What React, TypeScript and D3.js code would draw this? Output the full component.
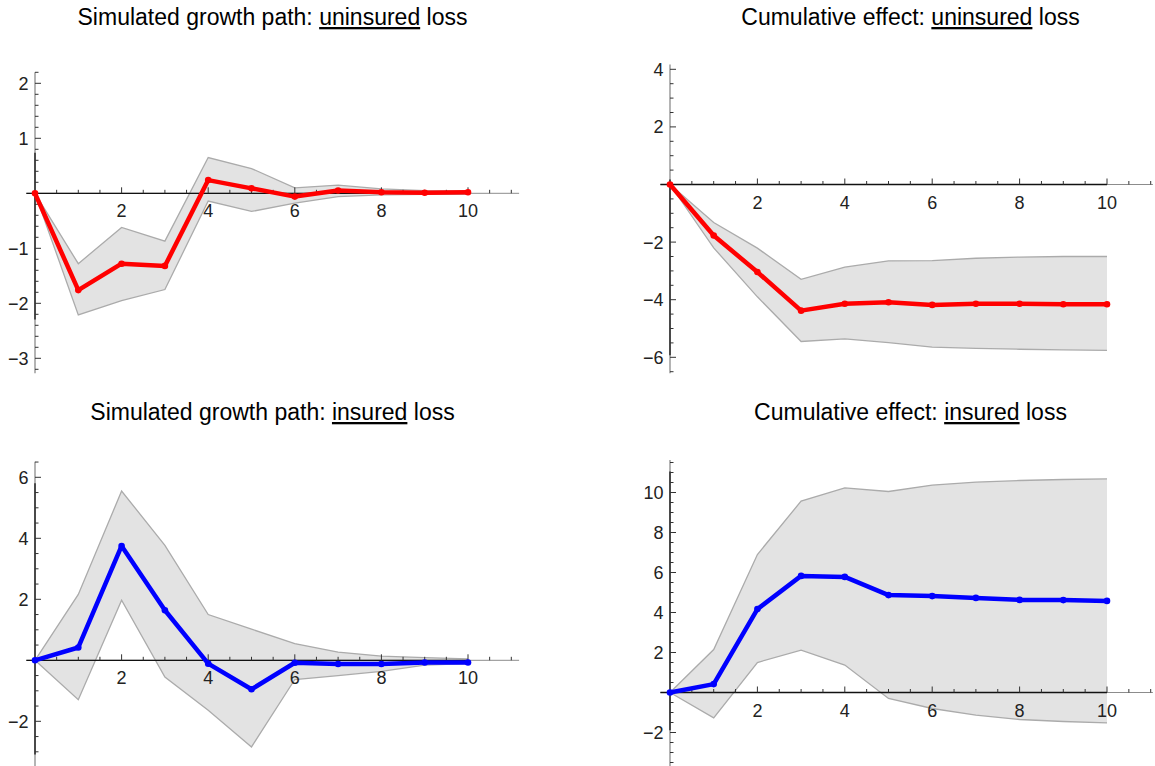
import React from "react";
import * as d3 from "d3";

// ---------- data ----------
const horizons = [0, 1, 2, 3, 4, 5, 6, 7, 8, 9, 10];

const uninsuredGrowthMean = [0, -1.76, -1.28, -1.32, 0.24, 0.09, -0.06, 0.05, 0.02, 0.01, 0.02];
const uninsuredGrowthUpper = [0, -1.28, -0.62, -0.87, 0.65, 0.45, 0.1, 0.15, 0.08, 0.05, 0.04];
const uninsuredGrowthLower = [0, -2.21, -1.95, -1.75, -0.14, -0.33, -0.18, -0.06, -0.03, -0.02, -0.02];

const uninsuredCumMean = [0, -1.77, -3.04, -4.38, -4.14, -4.09, -4.18, -4.14, -4.14, -4.16, -4.16];
const uninsuredCumUpper = [0, -1.32, -2.21, -3.29, -2.87, -2.65, -2.64, -2.56, -2.52, -2.5, -2.5];
const uninsuredCumLower = [0, -2.2, -3.9, -5.45, -5.36, -5.49, -5.65, -5.69, -5.72, -5.74, -5.76];

const insuredGrowthMean = [0, 0.42, 3.75, 1.64, -0.11, -0.95, -0.08, -0.12, -0.12, -0.07, -0.07];
const insuredGrowthUpper = [0, 2.16, 5.55, 3.77, 1.5, 1.02, 0.55, 0.27, 0.14, 0.09, 0.05];
const insuredGrowthLower = [0, -1.29, 1.97, -0.55, -1.64, -2.84, -0.63, -0.5, -0.36, -0.16, -0.11];

const insuredCumMean = [0, 0.42, 4.17, 5.83, 5.78, 4.87, 4.82, 4.73, 4.63, 4.62, 4.58];
const insuredCumUpper = [0, 2.15, 6.9, 9.57, 10.23, 10.05, 10.37, 10.52, 10.6, 10.65, 10.68];
const insuredCumLower = [0, -1.27, 1.5, 2.12, 1.37, -0.3, -0.8, -1.13, -1.35, -1.45, -1.52];

const xTickLabels = [2, 4, 6, 8, 10];
const yTicksUninsuredGrowth = [2, 1, -1, -2, -3];
const yTicksUninsuredCum = [4, 2, -2, -4, -6];
const yTicksInsuredGrowth = [6, 4, 2, -2];
const yTicksInsuredCum = [10, 8, 6, 4, 2, -2];

const titlePrefixes = ["Simulated growth path: ", "Cumulative effect: ", "Simulated growth path: ", "Cumulative effect: "];
const titleUnderlined = ["uninsured", "uninsured", "insured", "insured"];
const titleSuffix = " loss";

const FONT = "'Liberation Sans', Arial, Helvetica, sans-serif";

type PanelProps = {
  xr: [number, number];
  xExt: [number, number];
  y0: number;
  unit: number;
  yExt: [number, number];
  yMajor: number[];
  yMinorStep: number;
  mean: number[];
  upper: number[];
  lower: number[];
  color: string;
  title: [string, string];
  titleX: number;
  titleY: number;
};

function fmt(v: number) {
  return v < 0 ? "\u2212" + Math.abs(v) : String(v);
}

function Panel(p: PanelProps) {
  const x = d3.scaleLinear().domain([0, 10]).range(p.xr);
  const y = d3.scaleLinear().domain([0, 1]).range([p.y0, p.y0 - p.unit]);
  const area = d3
    .area<number>()
    .x((_, i) => x(horizons[i]))
    .y0((_, i) => y(p.lower[i]))
    .y1((_, i) => y(p.upper[i]));
  const lineOf = (arr: number[]) =>
    d3
      .line<number>()
      .x((_, i) => x(horizons[i]))
      .y((d) => y(d))(arr) || "";

  const xTicks = d3.range(0.5, p.xExt[1] + 1e-6, 0.5);
  const yStart = Math.ceil(p.yExt[0] / p.yMinorStep) * p.yMinorStep;
  const yTicks = d3
    .range(yStart, p.yExt[1] + 1e-6, p.yMinorStep)
    .map((v) => Math.round(v * 1000) / 1000)
    .filter((v) => Math.abs(v) > 1e-6);
  const isMajorY = (v: number) => p.yMajor.some((m) => Math.abs(m - v) < 1e-6);

  const dmin = d3.min(p.lower) as number;
  const dmax = d3.max(p.upper) as number;
  const pad = 0.03 * (dmax - dmin);

  const ax = x(0);
  const ay = y(0);

  return (
    <g>
      <text x={p.titleX} y={p.titleY} textAnchor="middle" fontFamily={FONT} fontSize={23} fill="#000">
        {p.title[0]}
        <tspan style={{ textDecoration: "underline" }}>{p.title[1]}</tspan>
        {titleSuffix}
      </text>
      <path d={area(p.mean) || ""} fill="#e3e3e3" stroke="none" />
      <path d={lineOf(p.upper)} fill="none" stroke="#ababab" strokeWidth={1.3} />
      <path d={lineOf(p.lower)} fill="none" stroke="#ababab" strokeWidth={1.3} />

      {/* gray full-range axes */}
      <line x1={x(p.xExt[0])} x2={x(p.xExt[1])} y1={ay} y2={ay} stroke="#8c8c8c" strokeWidth={1} />
      <line x1={ax} x2={ax} y1={y(p.yExt[0])} y2={y(p.yExt[1])} stroke="#8c8c8c" strokeWidth={1.3} />
      {/* black data-range axes */}
      <line x1={x(p.xExt[0])} x2={x(10)} y1={ay} y2={ay} stroke="#111" strokeWidth={1.3} />
      <line x1={ax} x2={ax} y1={y(dmin - pad)} y2={y(dmax + pad)} stroke="#111" strokeWidth={1.3} />

      {xTicks.map((t) => {
        const major = Math.abs(t % 2) < 1e-6;
        return (
          <line key={"xt" + t} x1={x(t)} x2={x(t)} y1={ay} y2={ay - (major ? 6 : 3.5)} stroke="#333" strokeWidth={1} />
        );
      })}
      {yTicks.map((t) => (
        <line key={"yt" + t} x1={ax} x2={ax + (isMajorY(t) ? 6 : 3.5)} y1={y(t)} y2={y(t)} stroke="#333" strokeWidth={1} />
      ))}
      {xTickLabels.map((t) => (
        <text key={"xl" + t} x={x(t)} y={ay + 24} textAnchor="middle" fontFamily={FONT} fontSize={18} fill="#222">
          {t}
        </text>
      ))}
      {p.yMajor.map((t) => (
        <text key={"yl" + t} x={ax - 6.5} y={y(t) + 6.4} textAnchor="end" fontFamily={FONT} fontSize={18} fill="#222">
          {fmt(t)}
        </text>
      ))}

      <path d={lineOf(p.mean)} fill="none" stroke={p.color} strokeWidth={4.5} strokeLinejoin="round" />
      {p.mean.map((v, i) => (
        <circle key={"pt" + i} cx={x(horizons[i])} cy={y(v)} r={3.3} fill={p.color} />
      ))}
    </g>
  );
}

export default function App() {
  return (
    <svg
      width={1155}
      height={766}
      style={{ position: "absolute", left: 0, top: 0, background: "#fff" }}
    >
      <Panel
        xr={[35, 468]}
        xExt={[-0.2, 11.18]}
        y0={193.3}
        unit={55}
        yExt={[-3.27, 2.2]}
        yMajor={yTicksUninsuredGrowth}
        yMinorStep={0.2}
        mean={uninsuredGrowthMean}
        upper={uninsuredGrowthUpper}
        lower={uninsuredGrowthLower}
        color="#ff0000"
        title={[titlePrefixes[0], titleUnderlined[0]]}
        titleX={272.5}
        titleY={25}
      />
      <Panel
        xr={[670, 1107]}
        xExt={[-0.22, 11.05]}
        y0={184.5}
        unit={28.8}
        yExt={[-6.55, 4.17]}
        yMajor={yTicksUninsuredCum}
        yMinorStep={0.5}
        mean={uninsuredCumMean}
        upper={uninsuredCumUpper}
        lower={uninsuredCumLower}
        color="#ff0000"
        title={[titlePrefixes[1], titleUnderlined[1]]}
        titleX={910.5}
        titleY={25}
      />
      <Panel
        xr={[35, 468]}
        xExt={[-0.2, 11.18]}
        y0={660.3}
        unit={30.5}
        yExt={[-3.6, 6.51]}
        yMajor={yTicksInsuredGrowth}
        yMinorStep={0.5}
        mean={insuredGrowthMean}
        upper={insuredGrowthUpper}
        lower={insuredGrowthLower}
        color="#0000ff"
        title={[titlePrefixes[2], titleUnderlined[2]]}
        titleX={272.5}
        titleY={420}
      />
      <Panel
        xr={[670, 1107]}
        xExt={[-0.22, 11.05]}
        y0={692.5}
        unit={20}
        yExt={[-3.8, 11.62]}
        yMajor={yTicksInsuredCum}
        yMinorStep={0.5}
        mean={insuredCumMean}
        upper={insuredCumUpper}
        lower={insuredCumLower}
        color="#0000ff"
        title={[titlePrefixes[3], titleUnderlined[3]]}
        titleX={910.5}
        titleY={420}
      />
    </svg>
  );
}
